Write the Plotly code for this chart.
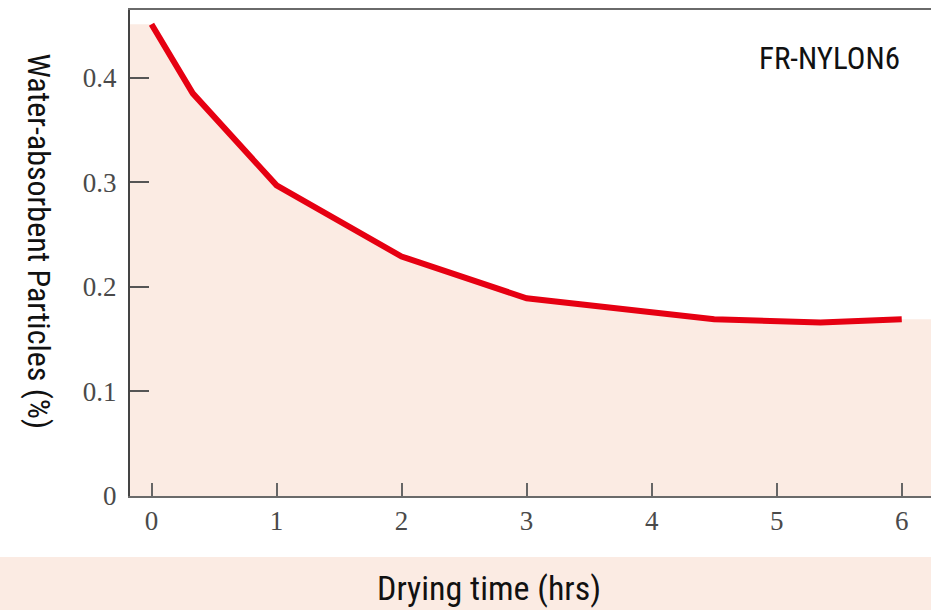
import plotly.graph_objects as go

# Data
drying_time = [0, 0.33, 1, 2, 3, 4.5, 5.35, 6]
particles = [0.451, 0.385, 0.297, 0.229, 0.189, 0.169, 0.166, 0.169]

x_ticks = [0, 1, 2, 3, 4, 5, 6]
y_ticks = [0, 0.1, 0.2, 0.3, 0.4]
y_tick_text = ["0", "0.1", "0.2", "0.3", "0.4"]

series_name = "FR-NYLON6"
x_title = "Drying time (hrs)"
y_title = "Water-absorbent Particles (%)"

X_RANGE = [-0.172, 6.234]
Y_RANGE = [0, 0.4647]

PINK = "#FBEBE3"
RED = "#E60012"
SANS = "Liberation Sans Narrow, Arial Narrow, Roboto Condensed, Liberation Sans, sans-serif"
SERIF = "Liberation Serif, Times New Roman, serif"

fig = go.Figure()

# area fill, extended flat to the plot edges
fig.add_trace(go.Scatter(
    x=[X_RANGE[0]] + drying_time + [X_RANGE[1]],
    y=[particles[0]] + particles + [particles[-1]],
    mode="lines", line=dict(width=0, color=PINK),
    fill="tozeroy", fillcolor=PINK, hoverinfo="skip", showlegend=False,
))

fig.add_trace(go.Scatter(
    x=drying_time, y=particles, mode="lines",
    line=dict(color=RED, width=6), name=series_name, showlegend=False,
))

fig.update_layout(
    width=931, height=610,
    margin=dict(l=130, r=0, t=10, b=114),
    paper_bgcolor="white", plot_bgcolor="white",
    showlegend=False,
    xaxis=dict(
        range=X_RANGE, tickvals=x_ticks, ticktext=[str(t) for t in x_ticks],
        showgrid=False, zeroline=False,
        showline=True, linecolor="#6a6a6a", linewidth=2, mirror=True,
        ticks="inside", ticklen=13, tickwidth=1.5, tickcolor="#666666",
        tickfont=dict(family=SERIF, size=27, color="#4a4a4a"),
    ),
    yaxis=dict(
        range=Y_RANGE, tickvals=y_ticks, ticktext=y_tick_text,
        showgrid=False, zeroline=False,
        showline=True, linecolor="#444444", linewidth=2,
        ticks="inside", ticklen=19, tickwidth=1.5, tickcolor="#555555",
        tickfont=dict(family=SERIF, size=27, color="#4a4a4a"),
        ticklabelstandoff=6,
    ),
    shapes=[dict(
        type="rect", xref="paper", yref="paper",
        x0=-130 / 801, x1=1, y0=-(610 - 496) / 486, y1=-(557 - 496) / 486,
        fillcolor=PINK, line=dict(width=0), layer="below",
    )],
    annotations=[
        dict(text=x_title, xref="paper", yref="paper",
             x=(489 - 130) / 801, y=-(588 - 496) / 486,
             showarrow=False, xanchor="center", yanchor="middle",
             font=dict(family=SANS, size=34, color="#111111")),
        dict(text=y_title, xref="paper", yref="paper",
             x=(38 - 130) / 801, y=(496 - 241.5) / 486, textangle=90,
             showarrow=False, xanchor="center", yanchor="middle",
             font=dict(family=SANS, size=32, color="#111111")),
        dict(text=series_name, xref="paper", yref="paper",
             x=(829 - 130) / 801, y=(496 - 58) / 486,
             showarrow=False, xanchor="center", yanchor="middle",
             font=dict(family=SANS, size=31, color="#111111")),
    ],
)

fig.write_html("out.html")
